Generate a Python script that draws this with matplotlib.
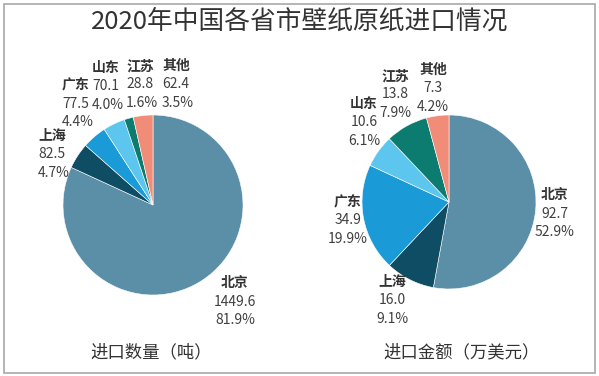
import matplotlib.pyplot as plt
from matplotlib.patches import Rectangle

plt.rcParams['font.family'] = ['Noto Sans CJK SC', 'DejaVu Sans']

# data
provinces = ["北京", "上海", "广东", "山东", "江苏", "其他"]
qty = [1449.6, 82.5, 77.5, 70.1, 28.8, 62.4]
qty_pct = ["81.9%", "4.7%", "4.4%", "4.0%", "1.6%", "3.5%"]
amount = [92.7, 16.0, 34.9, 10.6, 13.8, 7.3]
amount_pct = ["52.9%", "9.1%", "19.9%", "6.1%", "7.9%", "4.2%"]

colors = ["#5b8fa8", "#0e4d64", "#1a9bd7", "#5cc6ee", "#0c7c70", "#f08c78"]

W, H = 599, 376
fig = plt.figure(figsize=(W / 100, H / 100), dpi=100)
fig.patches.append(Rectangle((4 / W, 3 / H), 591 / W, 369 / H, transform=fig.transFigure,
                             fill=False, edgecolor="#a8a8a8", linewidth=1.2))

fig.text(0.5, 1 - 22 / H, "2020年中国各省市壁纸原纸进口情况", ha="center", va="center",
         fontsize=18.5, color="#333333", fontweight="medium")


def pie_axes(cx, cy, r):
    ax = fig.add_axes([(cx - r) / W, 1 - (cy + r) / H, 2 * r / W, 2 * r / H])
    return ax


ax1 = pie_axes(153, 205, 90)
ax1.pie(qty, colors=colors, startangle=90, counterclock=False,
        wedgeprops=dict(edgecolor="white", linewidth=0.4))
ax1.set_xlim(-1, 1); ax1.set_ylim(-1, 1); ax1.set_aspect("equal")

ax2 = pie_axes(449, 202, 87)
ax2.pie(amount, colors=colors, startangle=90, counterclock=False,
        wedgeprops=dict(edgecolor="white", linewidth=0.4))
ax2.set_xlim(-1, 1); ax2.set_ylim(-1, 1); ax2.set_aspect("equal")

# label anchors (x, y of name line in px, alignment)
pos1 = [(235, 283, "center"), (38, 136, "left"), (62, 85, "left"),
        (92, 68, "left"), (126, 66, "left"), (162, 66, "left")]
pos2 = [(555, 195, "center"), (392, 282, "center"), (348, 202, "center"),
        (364, 104, "center"), (395, 76, "center"), (433, 70, "center")]


def put_labels(vals, pcts, pos):
    for name, v, p, (x, y, ha) in zip(provinces, vals, pcts, pos):
        fig.text(x / W, 1 - y / H, name, ha=ha, va="center", fontsize=10,
                 fontweight="bold", color="#333333")
        fig.text(x / W, 1 - (y + 18.5) / H, f"{v:.1f}", ha=ha, va="center",
                 fontsize=10, color="#404040")
        fig.text(x / W, 1 - (y + 37) / H, p, ha=ha, va="center",
                 fontsize=10, color="#404040")


put_labels(qty, qty_pct, pos1)
put_labels(amount, amount_pct, pos2)

fig.text(151 / W, 1 - 352 / H, "进口数量（吨）", ha="center", va="center",
         fontsize=12.5, color="#333333")
fig.text(462 / W, 1 - 352 / H, "进口金额（万美元）", ha="center", va="center",
         fontsize=12.5, color="#333333")

fig.savefig("out.png", dpi=100)
